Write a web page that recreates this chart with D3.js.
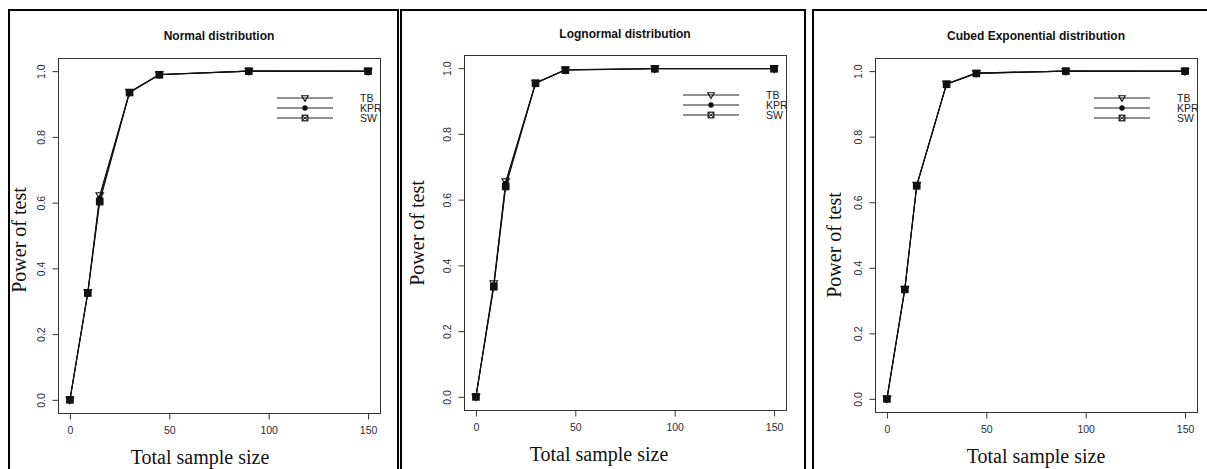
<!DOCTYPE html>
<html>
<head>
<meta charset="utf-8">
<script src="https://cdn.jsdelivr.net/npm/d3@7"></script>
<style>
  body { margin: 0; background: #fff; }
  svg { display: block; }
</style>
</head>
<body>
<svg id="chart" width="1207" height="469"></svg>
<script>
// sample sizes shared by all panels
var sampleSizes = [0, 9, 15, 30, 45, 90, 150];
var xTicks = [0, 50, 100, 150];
var yTicks = [0, 0.2, 0.4, 0.6, 0.8, 1.0];
var seriesNames = ["TB", "KPR", "SW"];
var panelTitles = ["Normal distribution", "Lognormal distribution", "Cubed Exponential distribution"];

// power values
var normalTB  = [0, 0.327, 0.622, 0.936, 0.990, 1.000, 0.999];
var normalKPR = [0, 0.327, 0.612, 0.936, 0.990, 1.000, 1.000];
var normalSW  = [0, 0.325, 0.603, 0.935, 0.989, 1.000, 1.000];

var lognormTB  = [0, 0.345, 0.655, 0.955, 0.995, 0.998, 0.998];
var lognormKPR = [0, 0.340, 0.648, 0.954, 0.995, 0.999, 0.999];
var lognormSW  = [0, 0.335, 0.640, 0.954, 0.994, 0.998, 0.998];

var cubedTB  = [0, 0.335, 0.653, 0.961, 0.994, 1.000, 0.999];
var cubedKPR = [0, 0.336, 0.651, 0.961, 0.994, 1.000, 1.000];
var cubedSW  = [0, 0.334, 0.650, 0.960, 0.993, 1.000, 1.000];

var panelData = [
  [normalTB, normalKPR, normalSW],
  [lognormTB, lognormKPR, lognormSW],
  [cubedTB, cubedKPR, cubedSW]
];

// layout of each panel (frame + plot box + label offsets)
var layout = [
  { frame: [9, 10, 398], box: [58, 58, 380, 413], xTitle: 200, yTitle: [20, 240] },
  { frame: [401, 10, 805], box: [464, 55, 786, 410], xTitle: 599, yTitle: [418, 233] },
  { frame: [813, 10, 1230], box: [875, 58, 1197, 412], xTitle: 1036, yTitle: [835, 245] }
];

var svg = d3.select("#chart");
var sans = "'Liberation Sans', Arial, sans-serif";
var serif = "'Liberation Serif', 'Times New Roman', serif";

// marker drawers
function drawMarker(g, type, x, y, big) {
  var k = big ? 1.15 : 1;
  if (type === 0) {
    // open down triangle
    g.append("path")
      .attr("d", "M" + (x - 3.3 * k) + "," + (y - 2.3 * k) + "L" + (x + 3.3 * k) + "," + (y - 2.3 * k) + "L" + x + "," + (y + 3.3 * k) + "Z")
      .attr("fill", "none").attr("stroke", "#111").attr("stroke-width", 1.1);
  } else if (type === 1) {
    g.append("circle").attr("cx", x).attr("cy", y).attr("r", 2.7 * k).attr("fill", "#111");
  } else {
    var h = 2.8 * k;
    g.append("rect").attr("x", x - h).attr("y", y - h).attr("width", 2 * h).attr("height", 2 * h)
      .attr("fill", big ? "#111" : "none").attr("stroke", "#111").attr("stroke-width", 1.2);
    if (!big) {
      g.append("path")
        .attr("d", "M" + (x - h) + "," + (y - h) + "L" + (x + h) + "," + (y + h) + "M" + (x + h) + "," + (y - h) + "L" + (x - h) + "," + (y + h))
        .attr("stroke", "#111").attr("stroke-width", 0.8);
    }
  }
}

layout.forEach(function (L, p) {
  var g = svg.append("g");
  var bx0 = L.box[0], by0 = L.box[1], bx1 = L.box[2], by1 = L.box[3];

  // outer frame, runs off the bottom of the image
  g.append("path")
    .attr("d", "M" + L.frame[0] + ",480V" + L.frame[1] + "H" + L.frame[2] + "V480")
    .attr("fill", "none").attr("stroke", "#000").attr("stroke-width", 2);

  var x = d3.scaleLinear().domain([-6, 156]).range([bx0, bx1]);
  var y = d3.scaleLinear().domain([-0.04, 1.04]).range([by1, by0]);

  // plot box
  g.append("rect")
    .attr("x", bx0 + 0.5).attr("y", by0 + 0.5)
    .attr("width", bx1 - bx0).attr("height", by1 - by0)
    .attr("fill", "none").attr("stroke", "#333").attr("stroke-width", 1);

  // axes
  var xAxis = d3.axisBottom(x).tickValues(xTicks).tickSize(6).tickPadding(7).tickFormat(d3.format("d"));
  var gx = g.append("g").attr("transform", "translate(0," + (by1 + 0.5) + ")").call(xAxis);
  gx.select(".domain").remove();

  var yAxis = d3.axisLeft(y).tickValues(yTicks).tickSize(6).tickFormat(d3.format(".1f"));
  var gy = g.append("g").attr("transform", "translate(" + (bx0 + 0.5) + ",0)").call(yAxis);
  gy.select(".domain").remove();
  gy.selectAll(".tick text")
    .attr("x", 0).attr("dy", null)
    .attr("transform", "translate(-18,0) rotate(-90)")
    .attr("text-anchor", "middle")
    .attr("dominant-baseline", "central");

  [gx, gy].forEach(function (a) {
    a.selectAll(".tick line").attr("stroke", "#333");
    a.selectAll(".tick text").attr("fill", "#2a2a3a").style("font-family", sans).style("font-size", "10.5px");
  });

  // title
  g.append("text")
    .attr("x", (bx0 + bx1) / 2).attr("y", L.box[1] - 18 - (p === 1 ? -1 : 0))
    .attr("text-anchor", "middle")
    .style("font-family", sans).style("font-size", "12px").style("font-weight", "bold")
    .attr("fill", "#111")
    .text(panelTitles[p]);

  // axis titles
  g.append("text")
    .attr("x", L.xTitle).attr("y", by1 + 51)
    .attr("text-anchor", "middle")
    .style("font-family", serif).style("font-size", "20px")
    .attr("fill", "#111")
    .text("Total sample size");

  g.append("text")
    .attr("transform", "translate(" + (L.yTitle[0] + 6) + "," + L.yTitle[1] + ") rotate(-90)")
    .attr("text-anchor", "middle")
    .style("font-family", serif).style("font-size", "20px")
    .attr("fill", "#111")
    .text("Power of test");

  // series
  var line = d3.line()
    .x(function (d, i) { return x(sampleSizes[i]); })
    .y(function (d) { return y(d); });

  panelData[p].forEach(function (vals) {
    g.append("path")
      .datum(vals)
      .attr("d", line)
      .attr("fill", "none").attr("stroke", "#111").attr("stroke-width", 1.1);
  });
  panelData[p].forEach(function (vals, s) {
    vals.forEach(function (v, i) {
      drawMarker(g, s, x(sampleSizes[i]), y(v), true);
    });
  });

  // legend (no box)
  seriesNames.forEach(function (name, s) {
    var ly = by0 + 40 + s * 10;
    var lx = bx0 + 219;
    g.append("line")
      .attr("x1", lx).attr("x2", lx + 56)
      .attr("y1", ly).attr("y2", ly)
      .attr("stroke", "#222").attr("stroke-width", 1);
    drawMarker(g, s, lx + 28, ly, false);
    g.append("text")
      .attr("x", bx0 + 302).attr("y", ly + 3.5)
      .style("font-family", sans).style("font-size", "10.5px")
      .attr("fill", "#222")
      .text(name);
  });
});
</script>
</body>
</html>
